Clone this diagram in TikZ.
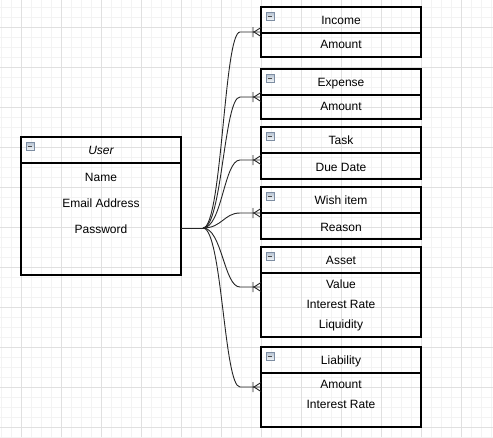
\documentclass[tikz,border=0pt]{standalone}
\usepackage{fontspec}
\setmainfont{Liberation Sans}
\usetikzlibrary{calc}

\definecolor{gridminor}{HTML}{F3F3F3}
\definecolor{gridmajor}{HTML}{E0E0E0}
\definecolor{iconedge}{HTML}{7D8DA2}
\definecolor{icontop}{HTML}{F2F5F8}
\definecolor{iconbot}{HTML}{B5C2D1}

\begin{document}
\begin{tikzpicture}[x=1pt,y=-1pt,
    head/.style={draw,line width=1.2pt,minimum width=160,minimum height=26,inner sep=0,outer sep=0,anchor=north west,
      font=\fontsize{12}{14}\selectfont,text height=8.6,text depth=0},
    body/.style={draw,line width=1.2pt,minimum width=160,inner sep=0,outer sep=0,anchor=north west},
    row/.style={inner sep=0,font=\fontsize{12}{14}\selectfont,text height=8.6,text depth=0},
    link/.style={line width=.9pt,black!85},
    icon/.style={draw=iconedge,top color=iconbot,bottom color=icontop,minimum size=8,inner sep=0,line width=.6pt,
      path picture={\draw[line width=.9pt,black!70] ([xshift=1.8pt]path picture bounding box.west) -- ([xshift=-1.8pt]path picture bounding box.east);}},
    manyone/.pic={\draw[link] (-8,-5) -- (-8,5) (0,-4.5) -- (-7,0) -- (0,4.5);}]

  %%%% Background and grid %%%%
  \fill[white] (0,0) rectangle (493,437);
  \useasboundingbox (0,0) rectangle (493,437);
  \begin{scope}[line width=1pt]
    \foreach \gx in {1,11,...,491}{
      \draw[gridminor] (\gx,0) -- (\gx,437);
    }
    \foreach \gy in {7,17,...,437}{
      \draw[gridminor] (0,\gy) -- (493,\gy);
    }
    \foreach \gx in {21,61,...,461}{
      \draw[gridmajor] (\gx,0) -- (\gx,437);
    }
    \foreach \gy in {27,67,...,427}{
      \draw[gridmajor] (0,\gy) -- (493,\gy);
    }
  \end{scope}

  %% The user table
  \node[head,font=\fontsize{12}{14}\selectfont\itshape] (user) at (21,137) {User};
  \node[body,minimum height=112] (user-body) at (user.south west) {};
  \node[icon] (user-icon) at ($(user.north west)+(9,9)$) {};
  \node[row] (user-name) at (101,177) {Name};
  \node[row] (user-mail) at (101,203) {Email Address};
  \node[row] (user-pass) at (101,229) {Password};

  %% The other tables: name / title / top / bottom
  \foreach \ent/\title/\ya/\yb in {income/Income/7/57,expense/Expense/69/119,task/Task/127/179,
      wish/Wish item/187/239,asset/Asset/247/337,liability/Liability/347/427}{
    \pgfmathsetmacro\hb{\yb-\ya-26}
    \node[head] (\ent) at (261,\ya) {\title};
    \node[body,minimum height=\hb] (\ent-body) at (\ent.south west) {};
    \node[icon] (\ent-icon) at ($(\ent.north west)+(9,9)$) {};
  }

  %% Rows of each table
  \foreach \ent/\n/\t/\y in {income/1/Amount/44,expense/1/Amount/106,task/1/Due Date/167,wish/1/Reason/227,
      asset/1/Value/284,asset/2/Interest Rate/304,asset/3/Liquidity/324,
      liability/1/Amount/384,liability/2/Interest Rate/404}{
    \node[row] (\ent-\n) at (341,\y) {\t};
  }

  %% Links from the user to every table
  \coordinate (jct) at (203,228);
  \draw[link] (user-body.east |- jct) -- (jct);
  \foreach \ent/\ty in {income/32,expense/97,task/160,wish/213,asset/287,liability/387}{
    \draw[link] (jct) .. controls (222,228) and (224,\ty) .. (240,\ty) -- (\ent-body.west |- 0,\ty);
    \pic at (\ent-body.west |- 0,\ty) {manyone};
  }

\end{tikzpicture}
\end{document}
